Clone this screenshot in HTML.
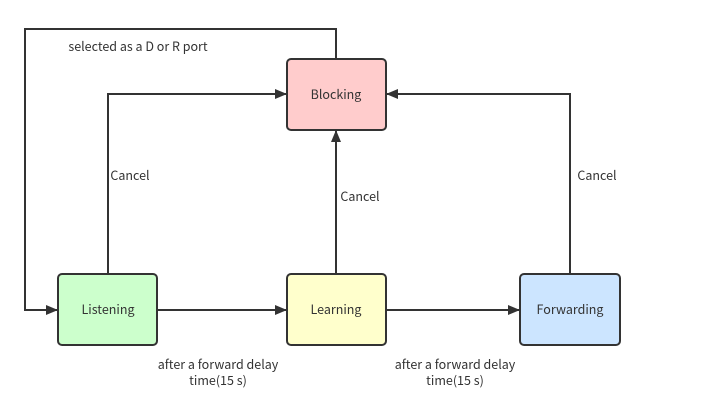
<!DOCTYPE html>
<html><head><style>body{margin:0;background:#fff}svg{display:block}text{font-family:"Noto Sans CJK SC","Liberation Sans",sans-serif;font-size:12.5px;fill:#333}</style></head><body>
<svg width="701" height="416" viewBox="0 0 701 416">
<defs><marker id="a" markerWidth="12" markerHeight="10" refX="11" refY="5" orient="auto" markerUnits="userSpaceOnUse"><path d="M0,0 L12,5 L0,10 Z" fill="#333"/></marker></defs>
<g fill="none" stroke="#333" stroke-width="2">
<polyline points="336,59 336,29 25,29 25,310 57,310" marker-end="url(#a)"/>
<polyline points="108,274 108,94 286,94" marker-end="url(#a)"/>
<line x1="336" y1="274" x2="336" y2="131" marker-end="url(#a)"/>
<polyline points="570,274 570,94 387,94" marker-end="url(#a)"/>
<line x1="158" y1="310" x2="286" y2="310" marker-end="url(#a)"/>
<line x1="387" y1="310" x2="519" y2="310" marker-end="url(#a)"/>
</g>
<g stroke="#333" stroke-width="2">
<rect x="287" y="59" width="99" height="71" rx="4" fill="#ffcccc"/>
<rect x="58" y="274" width="99" height="71" rx="4" fill="#ccffcc"/>
<rect x="287" y="274" width="99" height="71" rx="4" fill="#ffffcc"/>
<rect x="520" y="274" width="100" height="71" rx="4" fill="#cce5ff"/>
</g>
<g text-anchor="middle">
<text x="336" y="99">Blocking</text>
<text x="108" y="314">Listening</text>
<text x="336" y="314">Learning</text>
<text x="570" y="314">Forwarding</text>
<text x="138" y="51">selected as a D or R port</text>
<text x="130" y="180">Cancel</text>
<text x="360" y="201">Cancel</text>
<text x="597" y="180">Cancel</text>
<text x="218" y="369">after a forward delay</text>
<text x="218" y="385">time(15 s)</text>
<text x="455" y="369">after a forward delay</text>
<text x="455" y="385">time(15 s)</text>
</g>
</svg>
</body></html>
